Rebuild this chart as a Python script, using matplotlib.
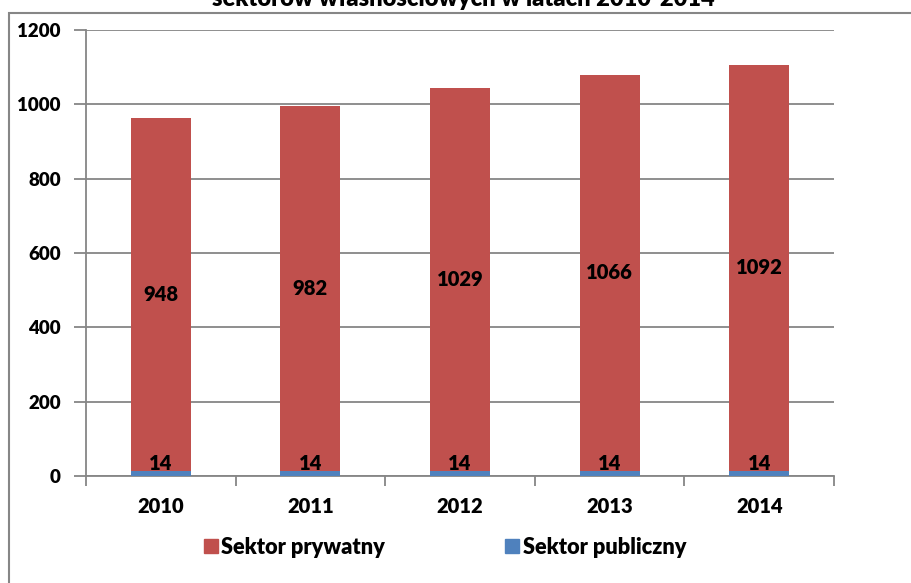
import matplotlib
matplotlib.use("Agg")
import matplotlib.pyplot as plt
from matplotlib.patches import Rectangle
import numpy as np

years = ["2010", "2011", "2012", "2013", "2014"]
publiczny = [14, 14, 14, 14, 14]
prywatny = [948, 982, 1029, 1066, 1092]
title = "sektorów własnościowych w latach 2010-2014"

RED = "#C0504D"
BLUE = "#4F81BD"
GRID = "#868686"
FONT = ["Lato", "DejaVu Sans"]
WT = 800
plt.rcParams['font.family'] = FONT
plt.rcParams['font.weight'] = WT
FS = 13.5
FSX = 14.5
FSL = 14.5
FSLEG = 15.7

W, H = 912, 583
fig = plt.figure(figsize=(W/100, H/100), dpi=100)
ax = fig.add_axes([86/W, 1-476/H, (834-86)/W, (476-30)/H])

x = np.arange(len(years))
ax.bar(x, publiczny, width=0.4, color=BLUE, zorder=3)
ax.bar(x, prywatny, width=0.4, bottom=publiczny, color=RED, zorder=3)

for xi, p, q in zip(x, publiczny, prywatny):
    ax.text(xi, p + q/2, str(q), ha='center', va='center', fontsize=FSL, fontweight=WT, zorder=4)
    ax.annotate(str(p), (xi, p/2), xytext=(0, 7), textcoords='offset points',
                ha='center', va='center', fontsize=FSL, fontweight=WT, zorder=4)

ax.set_xlim(-0.5, len(years)-0.5)
ax.set_ylim(0, 1200)
ax.set_yticks(range(0, 1201, 200))
ax.yaxis.grid(True, color=GRID, linewidth=1.3, zorder=0)
ax.set_axisbelow(True)
for s in ['top', 'right']:
    ax.spines[s].set_visible(False)
for s in ['left', 'bottom']:
    ax.spines[s].set_color(GRID)
    ax.spines[s].set_linewidth(1.3)
ax.tick_params(axis='y', length=9, width=1.3, color=GRID, pad=9, labelsize=FS)
ax.set_xticks(x)
ax.set_xticklabels(years, fontsize=FSX, fontweight=WT)
ax.set_xticks(np.arange(-0.5, len(years)), minor=True)
ax.tick_params(axis='x', which='major', length=0, pad=15)
ax.tick_params(axis='x', which='minor', length=7, width=1.3, color=GRID)
for lab in ax.get_yticklabels():
    lab.set_fontweight(WT)

# outer chart border
fig.patches.append(Rectangle((9/W, -0.1), 1.2, 1 - 13/H + 0.1, transform=fig.transFigure,
                             fill=False, edgecolor=GRID, linewidth=1.5))

fig.text(463/W, 1 - 6/H, title, ha='center', va='baseline', fontsize=17, fontweight=WT)

handles = [Rectangle((0, 0), 1, 1, color=RED), Rectangle((0, 0), 1, 1, color=BLUE)]
fig.legend(handles, ["Sektor prywatny", "Sektor publiczny"], loc='center',
           bbox_to_anchor=(445/W, 1-547/H), ncol=2, frameon=False,
           handlelength=0.65, handleheight=0.65, handletextpad=0.15, columnspacing=5.5,
           prop={'weight': WT, 'size': FSLEG, 'family': FONT})

fig.savefig("out.png", dpi=100)
